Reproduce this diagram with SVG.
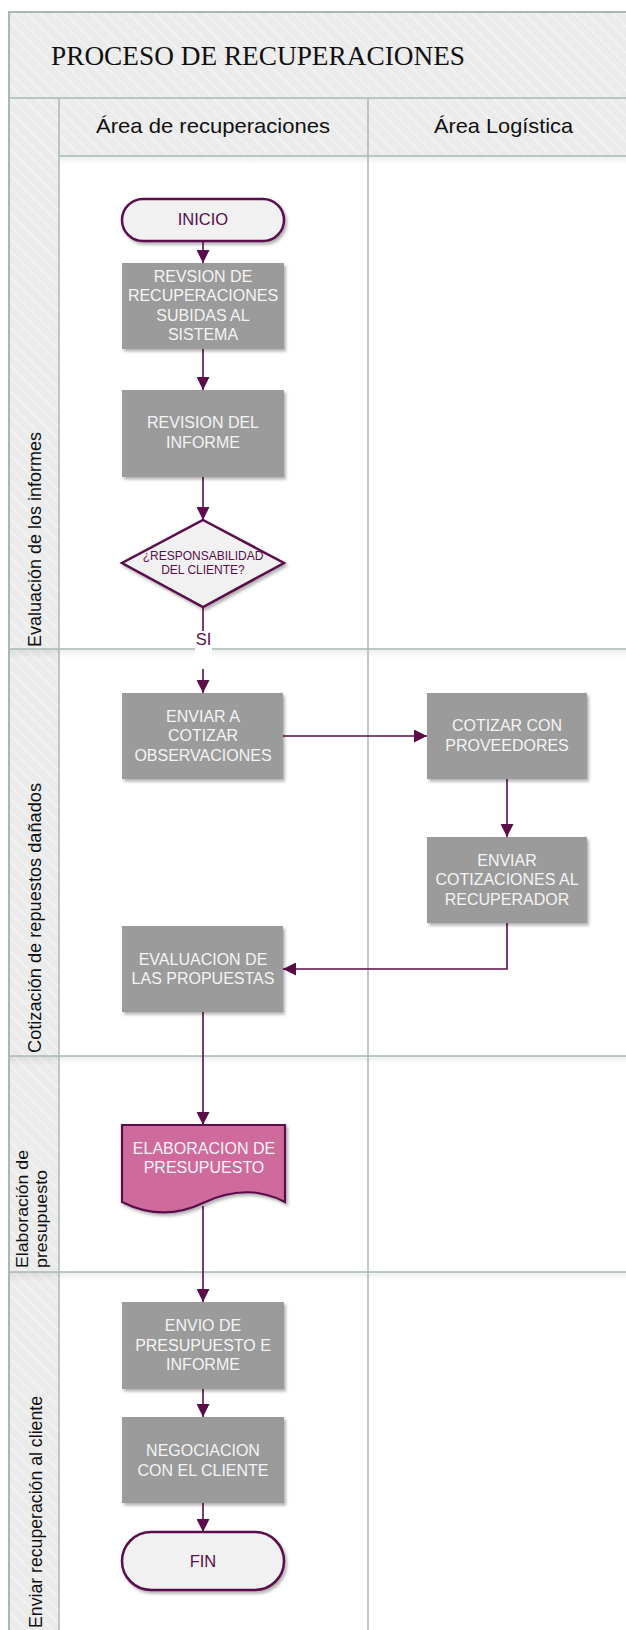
<svg xmlns="http://www.w3.org/2000/svg" width="626" height="1630" viewBox="0 0 626 1630">
  <defs>
    <!-- light diagonal hatching for title band, header cells and lane label column -->
    <pattern id="hatch" width="9" height="9" patternUnits="userSpaceOnUse" patternTransform="rotate(-45)">
      <rect width="9" height="9" fill="#ebebeb"/>
      <line x1="0" y1="0" x2="0" y2="9" stroke="#f5f5f5" stroke-width="2.5"/>
    </pattern>
    <linearGradient id="laneShadow" x1="0" y1="0" x2="0" y2="1">
      <stop offset="0" stop-color="#000" stop-opacity="0.07"/>
      <stop offset="1" stop-color="#000" stop-opacity="0"/>
    </linearGradient>
    <filter id="shadow" x="-10%" y="-10%" width="130%" height="140%">
      <feDropShadow dx="2" dy="2.5" stdDeviation="1.8" flood-color="#000" flood-opacity="0.3"/>
    </filter>
    <marker id="arrow" markerUnits="userSpaceOnUse" markerWidth="13" markerHeight="13" refX="13" refY="6.5" orient="auto">
      <path d="M0,0 L13,6.5 L0,13 Z" fill="#5a0d4b"/>
    </marker>
    <style>
      .grid { stroke: #a7bab2; stroke-width: 1.5; fill: none; }
      .frame { stroke: #a7bab2; stroke-width: 2; fill: none; }
      .title { font-family: "Liberation Serif", "Times New Roman", serif; font-size: 27px; fill: #111; }
      .head { font-family: "Liberation Sans", Arial, sans-serif; font-size: 21px; fill: #111; text-anchor: middle; }
      .lane { font-family: "Liberation Sans", Arial, sans-serif; font-size: 18px; fill: #111; }
      .lane2 { font-family: "Liberation Sans", Arial, sans-serif; font-size: 16.5px; fill: #111; }
      .box { fill: #9b9b9b; filter: url(#shadow); }
      .term { fill: #f1f1f1; stroke: #5a0d4b; stroke-width: 2.5; filter: url(#shadow); }
      .doc { fill: #cf6b9c; stroke: #5a0d4b; stroke-width: 2.2; filter: url(#shadow); }
      .btxt { font-family: "Liberation Sans", Arial, sans-serif; font-size: 16px; fill: #f4f4f4; text-anchor: middle; }
      .ptxt { font-family: "Liberation Sans", Arial, sans-serif; font-size: 16.5px; fill: #5a0d4b; text-anchor: middle; }
      .dtxt { font-family: "Liberation Sans", Arial, sans-serif; font-size: 12px; fill: #5a0d4b; text-anchor: middle; }
      .conn { stroke: #5a0d4b; stroke-width: 1.6; fill: none; }
    </style>
  </defs>

  <rect width="626" height="1630" fill="#ffffff"/>

  <!-- swimlane frame -->
  <g id="pool">
    <rect x="9" y="12" width="630" height="86" fill="url(#hatch)"/>
    <rect x="9" y="98" width="630" height="58" fill="url(#hatch)"/>
    <rect x="9" y="156" width="50" height="1480" fill="url(#hatch)"/>
    <!-- soft shadows under the horizontal separators -->
    <rect x="59" y="156" width="580" height="9" fill="url(#laneShadow)"/>
    <rect x="9" y="649" width="630" height="9" fill="url(#laneShadow)"/>
    <rect x="9" y="1056" width="630" height="9" fill="url(#laneShadow)"/>
    <rect x="9" y="1272" width="630" height="9" fill="url(#laneShadow)"/>
    <path class="frame" d="M9,1640 V12 H640"/>
    <path class="grid" d="M9,98 H640 M59,156 H640 M59,98 V1640 M368,98 V1640 M9,649 H640 M9,1056 H640 M9,1272 H640"/>
    <text class="title" x="51" y="65" textLength="414" lengthAdjust="spacingAndGlyphs">PROCESO DE RECUPERACIONES</text>
    <text class="head" x="213" y="133" textLength="234" lengthAdjust="spacingAndGlyphs">Área de recuperaciones</text>
    <text class="head" x="503.5" y="133" textLength="139" lengthAdjust="spacingAndGlyphs">Área Logística</text>
    <text class="lane" transform="translate(40.5,647) rotate(-90)" textLength="215" lengthAdjust="spacingAndGlyphs">Evaluación de los informes</text>
    <text class="lane" transform="translate(40.5,1053) rotate(-90)" textLength="270" lengthAdjust="spacingAndGlyphs">Cotización de repuestos dañados</text>
    <text class="lane2" transform="translate(28,1268) rotate(-90)" textLength="118" lengthAdjust="spacingAndGlyphs">Elaboración de</text>
    <text class="lane2" transform="translate(47,1268) rotate(-90)" textLength="98" lengthAdjust="spacingAndGlyphs">presupuesto</text>
    <text class="lane" transform="translate(42,1628) rotate(-90)" textLength="232" lengthAdjust="spacingAndGlyphs">Enviar recuperación al cliente</text>
  </g>

  <!-- connectors -->
  <g id="connectors">
    <path class="conn" d="M203,241 V263" marker-end="url(#arrow)"/>
    <path class="conn" d="M203,349 V390" marker-end="url(#arrow)"/>
    <path class="conn" d="M203,477 V520" marker-end="url(#arrow)"/>
    <path class="conn" d="M203,607 V693" marker-end="url(#arrow)"/>
    <path class="conn" d="M283,736 H427" marker-end="url(#arrow)"/>
    <path class="conn" d="M507,779 V837" marker-end="url(#arrow)"/>
    <path class="conn" d="M507,923 V969 H283" marker-end="url(#arrow)"/>
    <path class="conn" d="M203,1012 V1125" marker-end="url(#arrow)"/>
    <path class="conn" d="M203,1206 V1302" marker-end="url(#arrow)"/>
    <path class="conn" d="M203,1389 V1417" marker-end="url(#arrow)"/>
    <path class="conn" d="M203,1503 V1532" marker-end="url(#arrow)"/>
    <g id="label-si">
      <rect x="195" y="631" width="17" height="38" fill="#ffffff"/>
      <text class="ptxt" x="203.5" y="645">SI</text>
    </g>
  </g>

  <g id="inicio">
    <rect class="term" x="122" y="199" width="162" height="42" rx="21"/>
    <text class="ptxt" x="203" y="225">INICIO</text>
  </g>

  <g id="revision-recuperaciones">
    <rect class="box" x="122" y="263" width="162" height="86"/>
    <text class="btxt" x="203" y="282">REVSION DE</text>
    <text class="btxt" x="203" y="301">RECUPERACIONES</text>
    <text class="btxt" x="203" y="320.5">SUBIDAS AL</text>
    <text class="btxt" x="203" y="339.5">SISTEMA</text>
  </g>

  <g id="revision-informe">
    <rect class="box" x="122" y="390" width="162" height="87"/>
    <text class="btxt" x="203" y="428">REVISION DEL</text>
    <text class="btxt" x="203" y="447.5">INFORME</text>
  </g>

  <g id="decision-responsabilidad">
    <path class="term" d="M203,520 L284,563 L203,607 L122,563 Z"/>
    <text class="dtxt" x="203" y="560">¿RESPONSABILIDAD</text>
    <text class="dtxt" x="203" y="573.5">DEL CLIENTE?</text>
  </g>

  <g id="enviar-cotizar">
    <rect class="box" x="122" y="693" width="161" height="86"/>
    <text class="btxt" x="203" y="721.7">ENVIAR A</text>
    <text class="btxt" x="203" y="741">COTIZAR</text>
    <text class="btxt" x="203" y="760.7">OBSERVACIONES</text>
  </g>

  <g id="cotizar-proveedores">
    <rect class="box" x="427" y="693" width="160" height="86"/>
    <text class="btxt" x="507" y="730.7">COTIZAR CON</text>
    <text class="btxt" x="507" y="750.7">PROVEEDORES</text>
  </g>

  <g id="enviar-cotizaciones">
    <rect class="box" x="427" y="837" width="160" height="86"/>
    <text class="btxt" x="507" y="865.7">ENVIAR</text>
    <text class="btxt" x="507" y="885">COTIZACIONES AL</text>
    <text class="btxt" x="507" y="905">RECUPERADOR</text>
  </g>

  <g id="evaluacion-propuestas">
    <rect class="box" x="122" y="926" width="161" height="86"/>
    <text class="btxt" x="203" y="965">EVALUACION DE</text>
    <text class="btxt" x="203" y="984">LAS PROPUESTAS</text>
  </g>

  <g id="elaboracion-presupuesto">
    <path class="doc" d="M122,1125 H285 V1202 C258,1188 230,1190 203,1203 C176,1216 150,1216 122,1202 Z"/>
    <text class="btxt" x="204" y="1154">ELABORACION DE</text>
    <text class="btxt" x="204" y="1172.7">PRESUPUESTO</text>
  </g>

  <g id="envio-presupuesto">
    <rect class="box" x="122" y="1302" width="162" height="87"/>
    <text class="btxt" x="203" y="1331">ENVIO DE</text>
    <text class="btxt" x="203" y="1351">PRESUPUESTO E</text>
    <text class="btxt" x="203" y="1370">INFORME</text>
  </g>

  <g id="negociacion">
    <rect class="box" x="122" y="1417" width="162" height="86"/>
    <text class="btxt" x="203" y="1456">NEGOCIACION</text>
    <text class="btxt" x="203" y="1475.7">CON EL CLIENTE</text>
  </g>

  <g id="fin">
    <rect class="term" x="122" y="1532" width="162" height="58" rx="29"/>
    <text class="ptxt" x="203" y="1567.3">FIN</text>
  </g>
</svg>
